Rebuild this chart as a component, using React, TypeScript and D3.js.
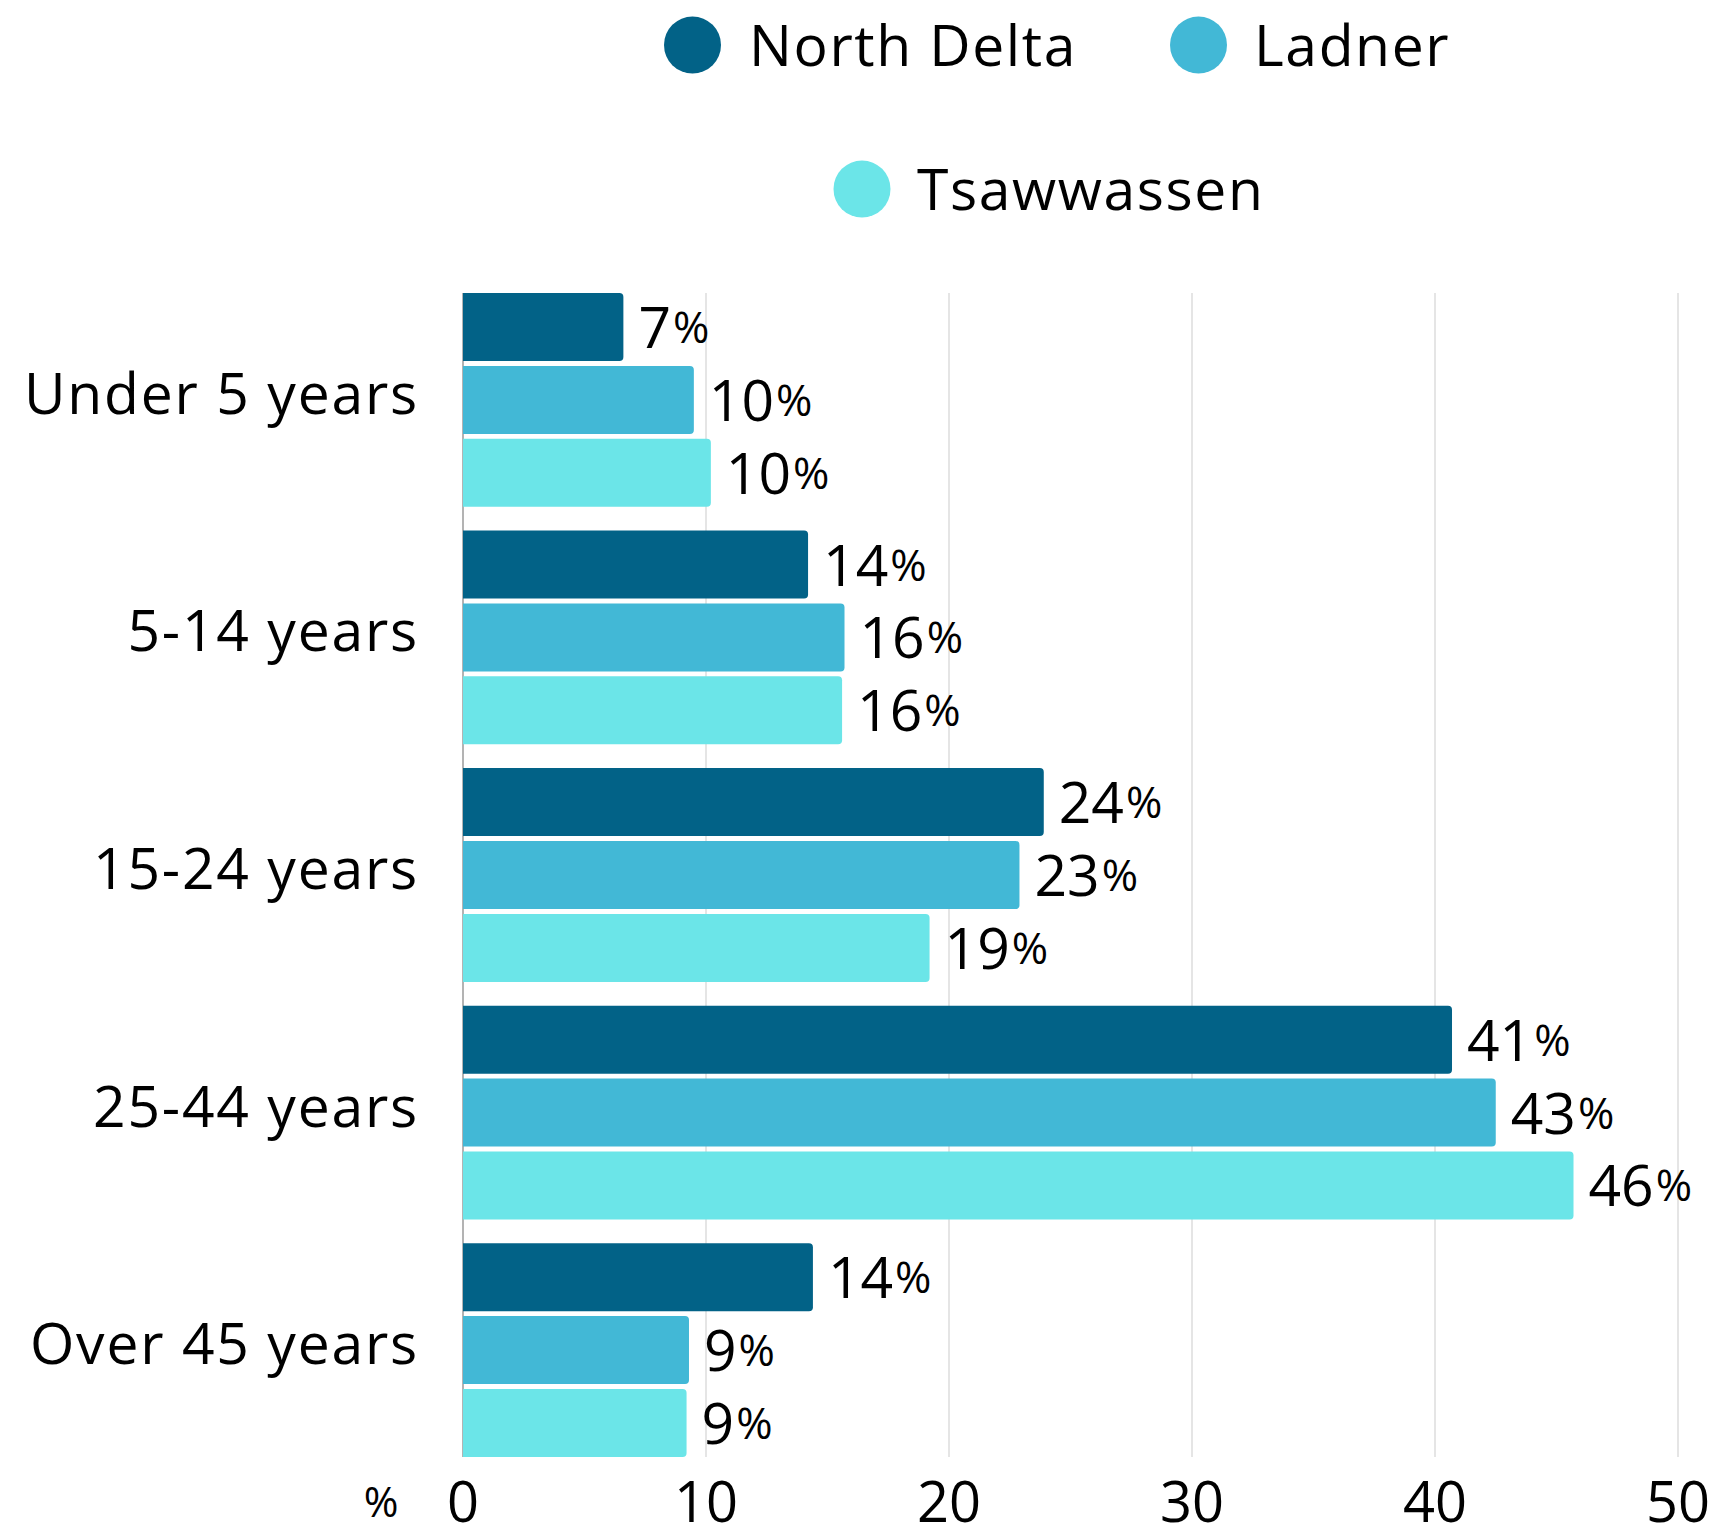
import React from "react";
import * as d3 from "d3";

const categories = ["Under 5 years", "5-14 years", "15-24 years", "25-44 years", "Over 45 years"];
const seriesNames = ["North Delta", "Ladner", "Tsawwassen"];
const seriesColors = ["#026287", "#42B8D6", "#6BE5E8"];
const northDelta = [6.6, 14.2, 23.9, 40.7, 14.4];
const ladner = [9.5, 15.7, 22.9, 42.5, 9.3];
const tsawwassen = [10.2, 15.6, 19.2, 45.7, 9.2];
const xTicks = [0, 10, 20, 30, 40, 50];

const W = 1715;
const H = 1540;
const FONT = "'Open Sans', sans-serif";

function barPath(x0: number, x1: number, y: number, h: number, r: number) {
  const p = d3.path();
  p.moveTo(x0, y);
  p.lineTo(x1 - r, y);
  p.arcTo(x1, y, x1, y + r, r);
  p.lineTo(x1, y + h - r);
  p.arcTo(x1, y + h, x1 - r, y + h, r);
  p.lineTo(x0, y + h);
  p.closePath();
  return p.toString();
}

export default function App() {
  const series = [northDelta, ladner, tsawwassen];
  const x = d3.scaleLinear().domain([0, 50]).range([463, 1678]);
  const y = d3.scaleBand<string>().domain(categories).range([293, 1457]).paddingInner(0.1).paddingOuter(0);
  const ys = d3.scaleBand<string>().domain(seriesNames).range([0, y.bandwidth()]).paddingInner(0.067).paddingOuter(0);
  const top = 293;
  const bottom = 1457;

  const legend = [
    { cx: 692.5, cy: 45, tx: 749 },
    { cx: 1198.5, cy: 45, tx: 1254 },
    { cx: 862, cy: 189, tx: 917 },
  ];

  return (
    <svg width={W} height={H} style={{ position: "absolute", left: 0, top: 0, background: "#fff" }} fontFamily={FONT}>
      {/* legend */}
      {seriesNames.map((s, i) => (
        <g key={s}>
          <circle cx={legend[i].cx} cy={legend[i].cy} r={28.5} fill={seriesColors[i]} />
          <text x={legend[i].tx} y={legend[i].cy + 21} fontSize={57} letterSpacing={1.6} fill="#000">{s}</text>
        </g>
      ))}
      {/* grid */}
      {xTicks.map((t) => (
        <line key={t} x1={x(t)} x2={x(t)} y1={top} y2={bottom} stroke={t === 0 ? "#9a9a9a" : "#dddddd"} strokeWidth={1.5} />
      ))}
      {/* bars */}
      {categories.map((c, ci) => (
        <g key={c}>
          {seriesNames.map((s, si) => {
            const v = series[si][ci];
            const by = (y(c) as number) + (ys(s) as number);
            const bh = ys.bandwidth();
            return (
              <g key={s}>
                <path d={barPath(x(0), x(v), by, bh, 4)} fill={seriesColors[si]} />
                <text x={x(v) + 15} y={by + bh / 2 + 21} fill="#000">
                  <tspan fontSize={57}>{Math.round(v)}</tspan>
                  <tspan fontSize={44} dx={2} dy={-5}>%</tspan>
                </text>
              </g>
            );
          })}
          <text x={419} y={(y(c) as number) + y.bandwidth() / 2 + 14} fontSize={57} letterSpacing={1.8} textAnchor="end" fill="#000">{c}</text>
        </g>
      ))}
      {/* x axis tick labels */}
      {xTicks.map((t) => (
        <text key={t} x={x(t)} y={1522} fontSize={56} textAnchor="middle" fill="#000">{t}</text>
      ))}
      <text x={381} y={1517} fontSize={42} textAnchor="middle" fill="#000">%</text>
    </svg>
  );
}
